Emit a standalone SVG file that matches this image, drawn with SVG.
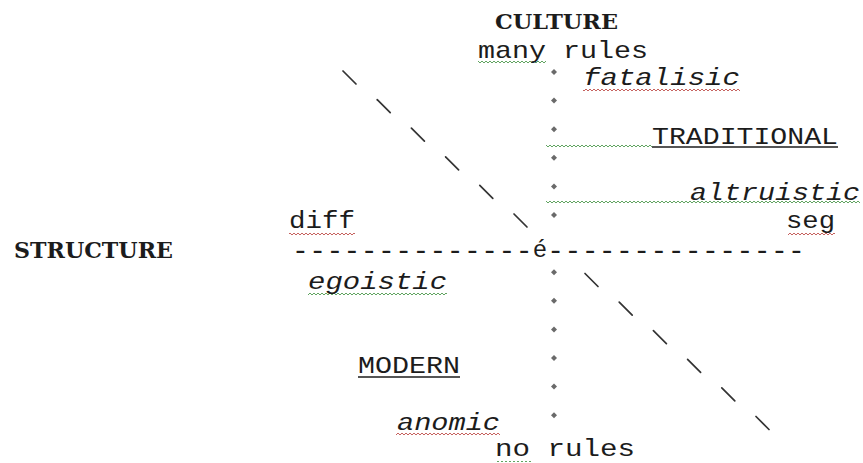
<svg xmlns="http://www.w3.org/2000/svg" width="863" height="463" viewBox="0 0 863 463">
<style>
.t{font-family:"Liberation Mono","DejaVu Sans Mono",monospace;font-size:24px;fill:#1c1c1c}
.h{font-family:"DejaVu Serif","Liberation Serif",serif;font-weight:bold;fill:#1c1c1c}
.i{font-style:italic}
.dash{font-size:28px;letter-spacing:0.4px}
.ul{stroke:#1c1c1c;stroke-width:1.4}
.bs{stroke:#333;stroke-width:1.7;stroke-linecap:round}
.dot{fill:#6a6a6a}
</style>
<defs>
<pattern id="wr" width="4" height="4" patternUnits="userSpaceOnUse"><path d="M0,3 L2,1 L4,3" fill="none" stroke="#c0504d" stroke-width="0.9"/></pattern>
<pattern id="wg" width="4" height="4" patternUnits="userSpaceOnUse"><path d="M0,3 L2,1 L4,3" fill="none" stroke="#4f9a4f" stroke-width="0.9"/></pattern>
<path id="d" d="M0,-3 L3,0 L0,3 L-3,0 Z"/>
</defs>
<rect width="863" height="463" fill="#fff"/>

<g id="connectors">
  <text class="t" x="292" y="258.5"><tspan class="dash">--------------</tspan><tspan dy="-2">é</tspan><tspan class="dash" dy="2">---------------</tspan></text>
  <g id="dot-column" class="dot">
    <use href="#d" x="554" y="72"/><use href="#d" x="554" y="100.6"/><use href="#d" x="554" y="129.2"/>
    <use href="#d" x="554" y="157.8"/><use href="#d" x="554" y="186.4"/><use href="#d" x="554" y="215"/>
    <use href="#d" x="554" y="272.2"/><use href="#d" x="554" y="300.8"/><use href="#d" x="554" y="329.4"/>
    <use href="#d" x="554" y="358"/><use href="#d" x="554" y="386.6"/><use href="#d" x="554" y="415.2"/>
  </g>
  <g id="diagonal" class="bs">
    <line x1="343" y1="71" x2="356" y2="84"/>
    <line x1="377.2" y1="99.6" x2="390.2" y2="112.6"/>
    <line x1="411.4" y1="128.2" x2="424.4" y2="141.2"/>
    <line x1="445.6" y1="156.8" x2="458.6" y2="169.8"/>
    <line x1="479.8" y1="185.4" x2="492.8" y2="198.4"/>
    <line x1="514" y1="214" x2="527" y2="227"/>
    <line x1="585" y1="273.5" x2="598" y2="286.5"/>
    <line x1="619.2" y1="302.1" x2="632.2" y2="315.1"/>
    <line x1="653.4" y1="330.7" x2="666.4" y2="343.7"/>
    <line x1="687.6" y1="359.3" x2="700.6" y2="372.3"/>
    <line x1="721.8" y1="387.9" x2="734.8" y2="400.9"/>
    <line x1="756" y1="416.5" x2="769" y2="429.5"/>
  </g>
</g>

<g id="squiggles">
  <rect x="478" y="60" width="68" height="4" fill="url(#wg)"/>
  <rect x="583" y="88" width="157" height="4" fill="url(#wr)"/>
  <rect x="546" y="144" width="106" height="4" fill="url(#wg)"/>
  <rect x="546" y="200" width="314" height="4" fill="url(#wg)"/>
  <rect x="289" y="231" width="66" height="4" fill="url(#wr)"/>
  <rect x="788" y="231" width="47" height="4" fill="url(#wr)"/>
  <rect x="308" y="292" width="139" height="4" fill="url(#wg)"/>
  <rect x="396" y="432" width="104" height="4" fill="url(#wr)"/>
  <rect x="495" y="459" width="36" height="3" fill="url(#wg)"/>
</g>

<g id="culture"><text class="h" x="495" y="29" font-size="20" textLength="123" lengthAdjust="spacingAndGlyphs">CULTURE</text></g>
<g id="many-rules"><text class="t" x="478" y="58" textLength="170" lengthAdjust="spacingAndGlyphs">many rules</text></g>
<g id="fatalisic"><text class="t i" x="583" y="85" textLength="157" lengthAdjust="spacingAndGlyphs">fatalisic</text></g>
<g id="traditional"><text class="t" x="652" y="144" textLength="186" lengthAdjust="spacingAndGlyphs">TRADITIONAL</text><line class="ul" x1="652" y1="147" x2="838" y2="147"/></g>
<g id="altruistic"><text class="t i" x="690" y="200" textLength="170" lengthAdjust="spacingAndGlyphs">altruistic</text></g>
<g id="diff"><text class="t" x="289" y="228" textLength="66" lengthAdjust="spacingAndGlyphs">diff</text></g>
<g id="seg"><text class="t" x="786" y="228" textLength="49" lengthAdjust="spacingAndGlyphs">seg</text></g>
<g id="structure"><text class="h" x="14" y="258" font-size="22" textLength="159" lengthAdjust="spacingAndGlyphs">STRUCTURE</text></g>
<g id="egoistic"><text class="t i" x="308" y="289" textLength="139" lengthAdjust="spacingAndGlyphs">egoistic</text></g>
<g id="modern"><text class="t" x="358" y="373" textLength="102" lengthAdjust="spacingAndGlyphs">MODERN</text><line class="ul" x1="358" y1="377" x2="460" y2="377"/></g>
<g id="anomic"><text class="t i" x="397" y="430" textLength="103" lengthAdjust="spacingAndGlyphs">anomic</text></g>
<g id="no-rules"><text class="t" x="495" y="456" font-size="22" textLength="140" lengthAdjust="spacingAndGlyphs">no rules</text></g>
</svg>
